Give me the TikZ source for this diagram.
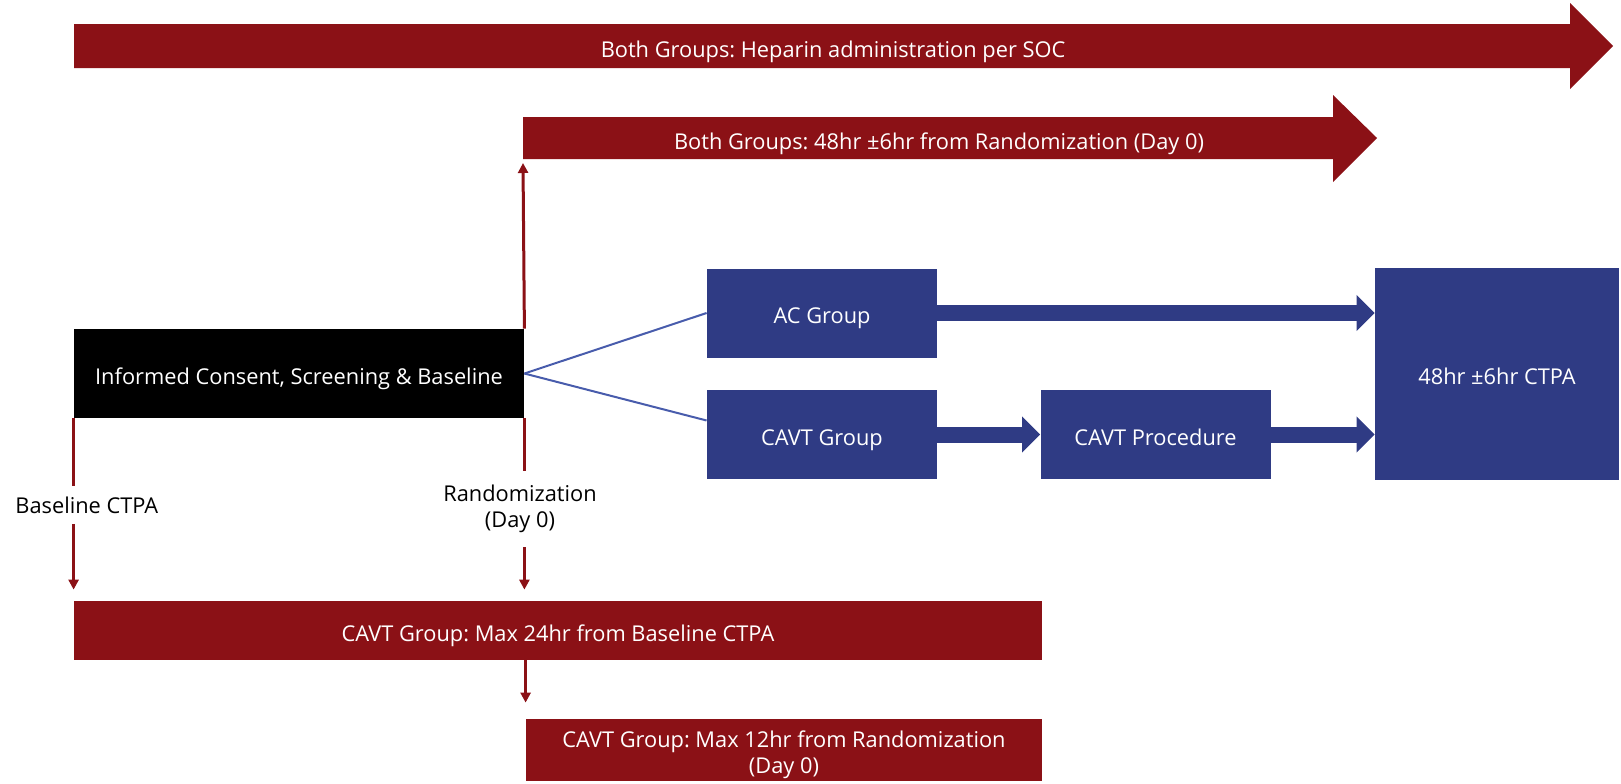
\documentclass[tikz,border=0pt]{standalone}
\usepackage{fontspec}
\setmainfont{Open Sans}
\usetikzlibrary{arrows.meta,positioning,calc}
\definecolor{darkred}{RGB}{139,17,22}
\definecolor{navy}{RGB}{47,59,132}
\definecolor{lineblue}{RGB}{72,92,172}
\frenchspacing

\begin{document}
\begin{tikzpicture}[x=0.5pt,y=-0.5pt,
  every node/.style={font=\fontsize{10.9}{13}\selectfont},
  lowtext/.style={text height=10.5pt,text depth=0pt},
  bluebox/.style={fill=navy,text=white,inner sep=0pt,lowtext,minimum width=115pt,minimum height=44.5pt},
  redbar/.style={fill=darkred,text=white,inner sep=0pt,align=center},
  marker/.style={inner xsep=0pt,align=center},
  redline/.style={darkred,line width=1.5pt},
  redtip/.style={-{Triangle[width=5pt,length=5pt]}},
  fatarrow/.style={navy,line width=8pt,-{Triangle[width=17.5pt,length=9pt]}}]

  \useasboundingbox (0,0) rectangle (1621,783);

  % long arrows on top
  \fill[darkred] (74,24) -- (1570,24) -- (1570,3) -- (1613,46) -- (1570,89) -- (1570,68) -- (74,68) -- cycle;
  \node[text=white,lowtext] (heparin) at (833,47) {Both Groups: Heparin administration per SOC};

  \fill[darkred] (523,117) -- (1333,117) -- (1333,95) -- (1377,138) -- (1333,182) -- (1333,159) -- (523,159) -- cycle;
  \node[text=white,lowtext] (window48) at (939,139) {Both Groups: 48hr ±6hr from Randomization (Day 0)};
  \coordinate (randtop) at (523,163);

  % boxes
  \node (consent) [fill=black,text=white,lowtext,minimum width=225pt,minimum height=44.5pt,inner sep=0pt] at (299,373.5) {Informed Consent, Screening \& Baseline};
  \node (ac) [bluebox] at (822,313) {AC Group};
  \node (cavt) [bluebox] at (822,434.5) {CAVT Group};
  \node (proc) [bluebox] at (1155.5,434.5) {CAVT Procedure};
  \node (ctpa) [bluebox,minimum width=122pt,minimum height=106pt] at (1497,374) {48hr ±6hr CTPA};

  \node (cavt24) [redbar,lowtext,minimum width=484pt,minimum height=29.5pt] at (558,630.5) {CAVT Group: Max 24hr from Baseline CTPA};
  \node (cavt12) [redbar,minimum width=258pt,minimum height=31pt,
    label={[text=white,align=center,yshift=-2.6pt]center:CAVT Group: Max 12hr from Randomization\\(Day 0)}] at (784,750) {};

  % time markers
  \node (baselab) [marker,anchor=west,inner ysep=5pt] at (15,505) {Baseline CTPA};
  \node (randlab) [marker,inner ysep=7pt] at (520,509) {Randomization\\(Day 0)};

  \draw[lineblue,line width=1pt] (consent.east) -- (ac.west);
  \draw[lineblue,line width=1pt] (consent.east) -- ([yshift=7pt]cavt.west);

  \draw[fatarrow] (ac.east) -- (ac.east -| ctpa.west);
  \draw[fatarrow] (cavt.east) -- (proc.west);
  \draw[fatarrow] (proc.east) -- (proc.east -| ctpa.west);

  \draw[redline,redtip] (consent.north east) -- (randtop);
  \draw[redline] (consent.south east) -- (consent.south east |- randlab.north);
  \draw[redline,redtip,shorten >=5.5pt] (consent.south east |- randlab.south) -- (consent.south east |- cavt24.north);
  \draw[redline] (consent.south west) -- (consent.south west |- baselab.north);
  \draw[redline,redtip,shorten >=5.5pt] (consent.south west |- baselab.south) -- (cavt24.north west);
  \draw[redline,redtip,shorten >=8pt] (cavt24.south -| cavt12.west) -- (cavt12.north west);
\end{tikzpicture}
\end{document}
